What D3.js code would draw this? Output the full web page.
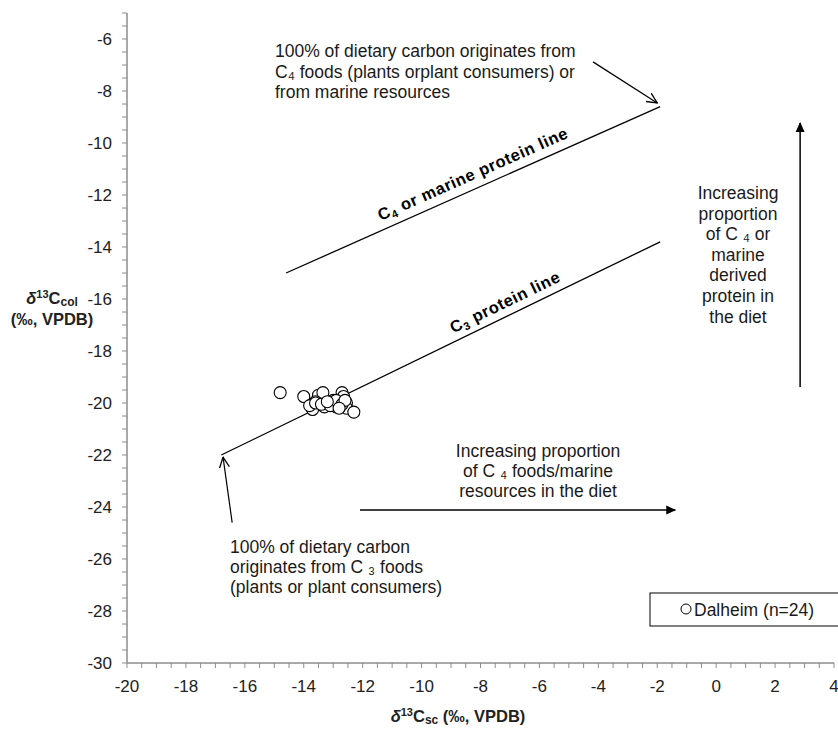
<!DOCTYPE html>
<html><head><meta charset="utf-8">
<script src="https://cdn.jsdelivr.net/npm/d3@7"></script>
<style>
body{margin:0;background:#fff;}
svg{display:block;font-family:"Liberation Sans",Arial,sans-serif;}
</style></head>
<body><svg id="c" width="838" height="729"></svg>
<script>
// ---- data ----
const xTicks = [-20,-18,-16,-14,-12,-10,-8,-6,-4,-2,0,2,4];
const yTicks = [-30,-28,-26,-24,-22,-20,-18,-16,-14,-12,-10,-8,-6];
const ptX = [-14.8,-14.0,-13.5,-13.35,-13.6,-13.7,-13.7,-13.3,-13.0,-12.9,-12.7,-12.65,-12.55,-12.55,-12.3,
             -13.8,-13.6,-13.4,-13.1,-12.9,-12.7,-12.6,-13.2,-12.8];
const ptY = [-19.6,-19.75,-19.7,-19.6,-19.95,-20.15,-20.25,-20.15,-19.9,-20.15,-19.6,-19.75,-20.0,-20.2,-20.35,
             -20.1,-20.0,-20.05,-20.1,-19.9,-20.05,-19.9,-19.95,-20.2];
const c3LineX = [-16.8,-1.9], c3LineY = [-22.0,-13.8];
const c4LineX = [-14.6,-1.9], c4LineY = [-15.0,-8.6];
const noteC4 = ["100% of dietary carbon originates from", "C₄ foods (plants orplant consumers) or", "from marine resources"];
const noteC3 = ["100% of dietary carbon", "originates from C ₃ foods", "(plants or plant consumers)"];
const noteH = ["Increasing proportion", "of C ₄ foods/marine", "resources in the diet"];
const noteV = ["Increasing", "proportion", "of C ₄ or", "marine", "derived", "protein in", "the diet"];

const svg = d3.select("#c");
const x = d3.scaleLinear().domain([-20,4]).range([127,834]);
const y = d3.scaleLinear().domain([-30,-5]).range([663,13]);
const axisCol = "#8c8c8c";

// defs
const defs = svg.append("defs");
defs.append("marker").attr("id","open").attr("viewBox","0 0 10 10").attr("refX",9.5).attr("refY",5)
  .attr("markerWidth",11).attr("markerHeight",11).attr("markerUnits","userSpaceOnUse").attr("orient","auto")
  .append("path").attr("d","M0,0.5 L9.5,5 L0,9.5").attr("fill","none").attr("stroke","#000").attr("stroke-width",1.2);
defs.append("marker").attr("id","fill").attr("viewBox","0 0 10 10").attr("refX",9).attr("refY",5)
  .attr("markerWidth",11).attr("markerHeight",10).attr("markerUnits","userSpaceOnUse").attr("orient","auto")
  .append("path").attr("d","M0,0.5 L10,5 L0,9.5 Z").attr("fill","#000");

// axes with minor ticks
const minorX = d3.range(-20,4.01,0.5);
const minorY = d3.range(-30,-4.99,0.5);
const gx = svg.append("g").attr("transform",`translate(0,${y(-30)})`);
gx.append("line").attr("x1",x(-20)).attr("x2",x(4)).attr("stroke",axisCol).attr("stroke-width",1.5);
gx.selectAll("line.t").data(minorX).join("line").attr("class","t")
  .attr("x1",d=>x(d)).attr("x2",d=>x(d)).attr("y1",0).attr("y2",5).attr("stroke",axisCol).attr("stroke-width",1);
gx.selectAll("text").data(xTicks).join("text").attr("x",d=>x(d)).attr("y",29)
  .attr("text-anchor","middle").attr("font-size",17).attr("fill","#222").text(d=>d);

const gy = svg.append("g").attr("transform",`translate(${x(-20)},0)`);
gy.append("line").attr("y1",y(-30)).attr("y2",y(-5)).attr("stroke",axisCol).attr("stroke-width",1.5);
gy.selectAll("line.t").data(minorY).join("line").attr("class","t")
  .attr("y1",d=>y(d)).attr("y2",d=>y(d)).attr("x1",0).attr("x2",-5).attr("stroke",axisCol).attr("stroke-width",1);
gy.selectAll("text").data(yTicks).join("text").attr("x",-15).attr("y",d=>y(d)+6)
  .attr("text-anchor","end").attr("font-size",17).attr("fill","#222").text(d=>d);

// axis titles
const yt = svg.append("text").attr("x",52).attr("y",304).attr("text-anchor","middle")
  .attr("font-size",16.5).attr("font-weight","bold").attr("fill","#222");
yt.append("tspan").attr("font-style","italic").text("δ");
yt.append("tspan").attr("font-size",11).attr("dy",-6).text("13");
yt.append("tspan").attr("dy",6).text("C");
yt.append("tspan").attr("font-size",12).attr("dy",1.5).text("col");
svg.append("text").attr("x",52).attr("y",325).attr("text-anchor","middle")
  .attr("font-size",16.5).attr("font-weight","bold").attr("fill","#222").text("(‰, VPDB)");

const xt = svg.append("text").attr("x",458).attr("y",722).attr("text-anchor","middle")
  .attr("font-size",16.5).attr("font-weight","bold").attr("fill","#222");
xt.append("tspan").attr("font-style","italic").text("δ");
xt.append("tspan").attr("font-size",11).attr("dy",-6).text("13");
xt.append("tspan").attr("dy",6).text("C");
xt.append("tspan").attr("font-size",12).attr("dy",2).text("sc");
xt.append("tspan").attr("dy",-2).text(" (‰, VPDB)");

// protein lines
function drawLine(xs, ys){
  svg.append("line").attr("x1",x(xs[0])).attr("y1",y(ys[0])).attr("x2",x(xs[1])).attr("y2",y(ys[1]))
    .attr("stroke","#000").attr("stroke-width",1.3);
}
drawLine(c3LineX,c3LineY);
drawLine(c4LineX,c4LineY);

function lineLabel(xs, ys, t, parts, offset){
  const ang = Math.atan2(y(ys[1])-y(ys[0]), x(xs[1])-x(xs[0]))*180/Math.PI;
  const cx = x(xs[0]+(xs[1]-xs[0])*t), cy = y(ys[0]+(ys[1]-ys[0])*t);
  const tx = svg.append("text").attr("transform",`translate(${cx},${cy}) rotate(${ang}) translate(0,${offset})`)
    .attr("text-anchor","middle").attr("font-size",16.5).attr("font-weight","bold").attr("fill","#000")
    .attr("letter-spacing",0.6);
  parts.forEach(p=>{ const s=tx.append("tspan").text(p[0]); if(p[1]) s.attr("font-size",p[1]); if(p[2]!==undefined) s.attr("dy",p[2]); });
}
lineLabel(c4LineX,c4LineY,0.515,[["C"],["4",11,3],[" or marine protein line",null,-3]],-9);
lineLabel(c3LineX,c3LineY,0.66,[["C"],["3",11,3],[" protein line",null,-3]],-8);

// points
svg.append("g").selectAll("circle").data(ptX.map((d,i)=>[d,ptY[i]])).join("circle")
  .attr("cx",d=>x(d[0])).attr("cy",d=>y(d[1])).attr("r",6)
  .attr("fill","#fff").attr("stroke","#000").attr("stroke-width",1.1);

// annotations
function multiText(lines, ax, ay, anchor, lh){
  svg.append("g").selectAll("text").data(lines).join("text")
    .attr("x",ax).attr("y",(d,i)=>ay+i*lh).attr("text-anchor",anchor)
    .attr("font-size",17.5).attr("fill","#1a1a1a").text(d=>d);
}
multiText(noteC4, 275, 57, "start", 20.5);
svg.append("line").attr("x1",x(-4.18)).attr("y1",y(-6.88)).attr("x2",x(-2.0)).attr("y2",y(-8.46))
  .attr("stroke","#000").attr("stroke-width",1.2).attr("marker-end","url(#open)");

multiText(noteC3, 230, 553, "start", 20);
svg.append("line").attr("x1",x(-16.43)).attr("y1",y(-24.6)).attr("x2",x(-16.74)).attr("y2",y(-22.08))
  .attr("stroke","#000").attr("stroke-width",1.2).attr("marker-end","url(#open)");

multiText(noteH, 538, 457, "middle", 20);
svg.append("line").attr("x1",x(-12.09)).attr("y1",y(-24.12)).attr("x2",x(-1.39)).attr("y2",y(-24.12))
  .attr("stroke","#000").attr("stroke-width",1.5).attr("marker-end","url(#fill)");

multiText(noteV, 738, 199, "middle", 20.6);
svg.append("line").attr("x1",x(2.85)).attr("y1",y(-19.38)).attr("x2",x(2.85)).attr("y2",y(-9.23))
  .attr("stroke","#000").attr("stroke-width",1.5).attr("marker-end","url(#fill)");

// legend
const lg = svg.append("g").attr("transform","translate(650,593)");
lg.append("rect").attr("width",220).attr("height",33).attr("fill","#fff").attr("stroke","#000").attr("stroke-width",1);
lg.append("circle").attr("cx",36).attr("cy",16).attr("r",5).attr("fill","#fff").attr("stroke","#000").attr("stroke-width",1);
lg.append("text").attr("x",44).attr("y",23).attr("font-size",17.5).attr("fill","#1a1a1a").text("Dalheim (n=24)");
</script></body></html>
